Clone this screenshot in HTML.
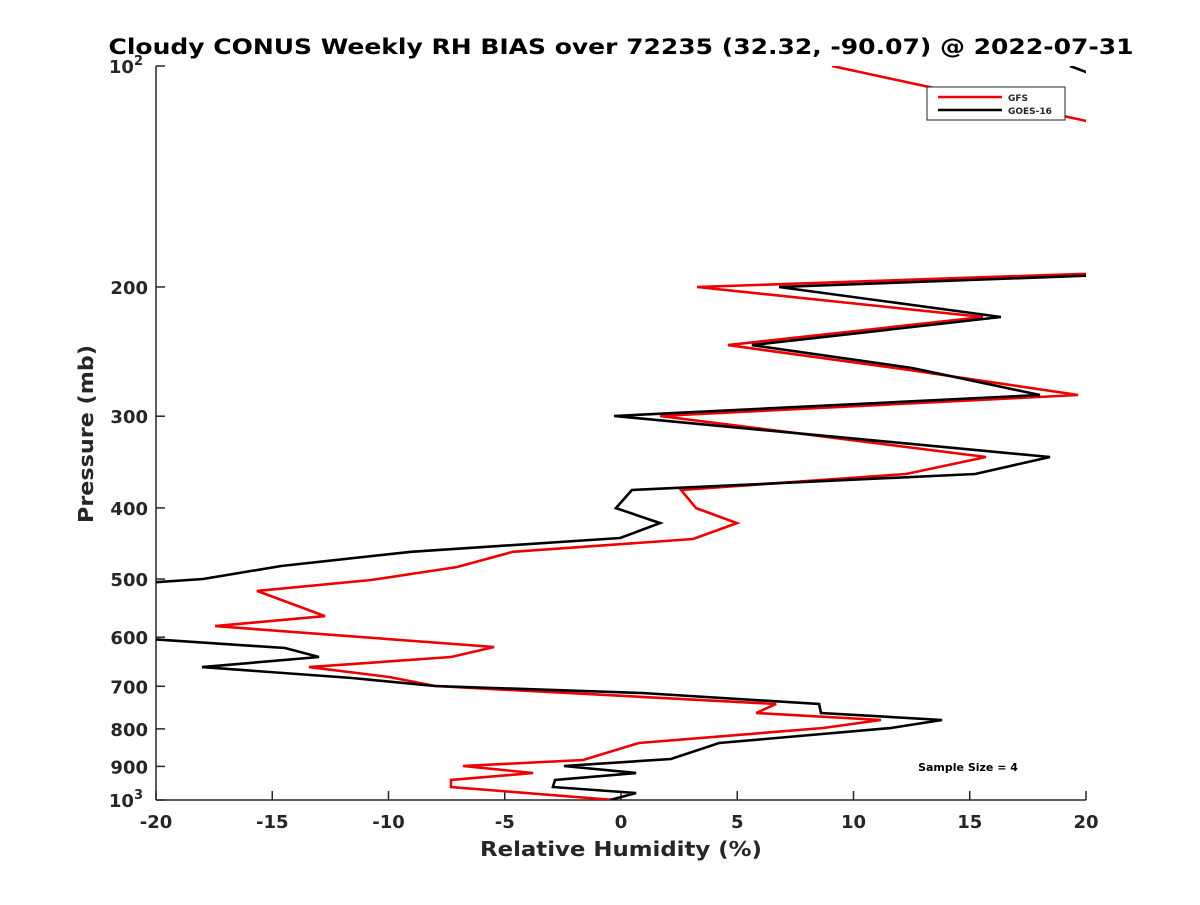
<!DOCTYPE html>
<html><head><meta charset="utf-8"><style>
body{margin:0;background:#fff;}
svg text{font-family:"DejaVu Sans","Liberation Sans",sans-serif;font-weight:bold;fill:#262626;}
</style></head><body>
<svg id="chart" width="1200" height="900" xmlns="http://www.w3.org/2000/svg">
<defs><clipPath id="plotclip"><rect x="156" y="66" width="930" height="734"/></clipPath></defs>
<rect width="1200" height="900" fill="#fff"/>
<text x="621" y="54" font-size="21" text-anchor="middle" textLength="1025" lengthAdjust="spacingAndGlyphs" style="fill:#000">Cloudy CONUS Weekly RH BIAS over 72235 (32.32, -90.07) @ 2022-07-31</text>
<g id="axes"></g>
<g id="series" clip-path="url(#plotclip)"></g>
<text x="621" y="856" font-size="20" text-anchor="middle" textLength="282" lengthAdjust="spacingAndGlyphs">Relative Humidity (%)</text>
<text transform="translate(93,434) rotate(-90)" font-size="20" text-anchor="middle" textLength="178" lengthAdjust="spacingAndGlyphs">Pressure (mb)</text>
<g>
<rect x="927" y="87" width="138" height="33" fill="#fff" stroke="#262626" stroke-width="1"/>
<line x1="938" y1="97" x2="1002" y2="97" stroke="#e00" stroke-width="2.5"/>
<text x="1008" y="101" font-size="9">GFS</text>
<line x1="938" y1="110" x2="1002" y2="110" stroke="#000" stroke-width="2.5"/>
<text x="1008" y="114" font-size="9">GOES-16</text>
</g>
<text x="968" y="771" font-size="11" text-anchor="middle" style="fill:#000">Sample Size = 4</text>
</svg>
<script>
const xTicks = [-20,-15,-10,-5,0,5,10,15,20];
const yTicks = [100,200,300,400,500,600,700,800,900,1000];
const yTickLabels = ["10|2","200","300","400","500","600","700","800","900","10|3"];
const gfsPressure = [100,118.8,150,190,200,219.8,240,259.5,280.7,299.8,341,359.6,378.1,400.2,419.5,441,459,481.4,501.5,519,561.6,579.6,618.9,638.6,659,680,699.3,740,761.2,778,797.8,836.3,882,898.9,918.8,939.3,960.1,1000];
const gfsValues = [9.08,20,30,24,3.27,15.57,4.6,12.39,19.66,1.68,15.7,12.26,2.58,3.23,4.99,3.1,-4.65,-7.05,-10.75,-15.66,-12.73,-17.46,-5.46,-7.31,-13.42,-9.94,-8,6.67,5.81,11.18,8.69,0.77,-1.63,-6.8,-3.78,-7.31,-7.31,-0.3];
const goesPressure = [100,101.9,105,191,200,219.8,240,257.9,280.7,299.8,341,359.6,378.1,400.2,419.5,439.6,459,480,500,520,590,620.8,638.6,659,682,699.3,714.8,740,761.2,778,797.8,836.3,879.3,898.9,918.8,939.3,960.1,978.4,1000];
const goesValues = [19.31,20,23,24,6.8,16.34,5.63,12.52,18.02,-0.3,18.45,15.23,0.47,-0.22,1.68,-0.04,-9.03,-14.62,-17.98,-26,-25,-14.45,-12.99,-18.02,-11.57,-8,0.9,8.52,8.6,13.81,11.61,4.22,2.15,-2.45,0.65,-2.84,-2.93,0.65,-0.47];

const X0=156,X1=1086,Y0=66,Y1=800;
const xs=v=>X0+(v+20)/40*(X1-X0);
const ys=p=>Y0+Math.log10(p/100)*(Y1-Y0);
const NS="http://www.w3.org/2000/svg";
const axes=document.getElementById('axes');
const series=document.getElementById('series');
function mk(tag,attrs,parent){const e=document.createElementNS(NS,tag);for(const k in attrs)e.setAttribute(k,attrs[k]);parent.appendChild(e);return e;}

const yAxis=mk('line',{x1:X0,y1:Y0,x2:X0,y2:Y1,stroke:'#262626','stroke-width':1.5},axes);


const xAxis=mk('line',{x1:X0,y1:Y1,x2:X1,y2:Y1,stroke:'#262626','stroke-width':1.5},axes);



xTicks.forEach(t=>{
  const x=xs(t);
  const tk=mk('line',{x1:x,y1:Y1,x2:x,y2:Y1-9,stroke:'#262626','stroke-width':1.5},axes);
  
  
  const lb=mk('text',{x:x,y:Y1+28,'font-size':18,'text-anchor':'middle'},axes);
  lb.textContent=String(t);
  
  
});
yTicks.forEach((t,i)=>{
  const y=ys(t);
  const tk=mk('line',{x1:X0,y1:y,x2:X0+9,y2:y,stroke:'#262626','stroke-width':1.5},axes);
  
  
  const parts=yTickLabels[i].split('|');
  const lb=mk('text',{x:X0-8,y:y+7,'font-size':18,'text-anchor':'end'},axes);
  
  
  if(parts.length===1){lb.textContent=parts[0];}
  else{
    lb.setAttribute('x',X0-13);
    lb.textContent=parts[0];
    const sup=mk('tspan',{dy:-8,'font-size':13},lb);
    sup.textContent=parts[1];
  }
});

function drawLine(vals,pres,color,name){
  const d=vals.map((v,i)=>(i?'L':'M')+xs(v).toFixed(1)+','+ys(pres[i]).toFixed(1)).join(' ');
  const p=mk('path',{d:d,fill:'none',stroke:color,'stroke-width':2.6,'stroke-linejoin':'miter'},series);
  
  
}
drawLine(gfsValues,gfsPressure,'#e00','gfs-line');
drawLine(goesValues,goesPressure,'#000','goes16-line');
</script>
</body></html>
